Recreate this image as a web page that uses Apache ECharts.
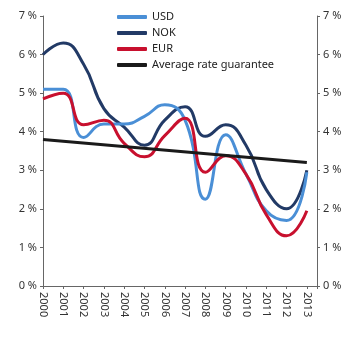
<!DOCTYPE html>
<html><head><meta charset="utf-8">
<script src="https://cdn.jsdelivr.net/npm/echarts@6/dist/echarts.min.js"></script>
<style>html,body{margin:0;padding:0;background:#fff}#c{width:360px;height:341px}</style>
</head><body><div id="c"></div>
<script>
const years = [2000,2001,2002,2003,2004,2005,2006,2007,2008,2009,2010,2011,2012,2013];
const usd = [5.10,5.10,3.85,4.20,4.20,4.40,4.70,4.30,2.25,3.92,2.90,1.95,1.70,2.95];
const nok = [6.00,6.30,5.75,4.60,4.12,3.65,4.30,4.65,3.88,4.18,3.65,2.50,2.00,3.00];
const eur = [4.85,5.00,4.18,4.30,3.70,3.35,3.90,4.35,2.95,3.38,2.90,1.85,1.30,1.95];
const avgYears = [2000,2013];
const avg = [3.80,3.20];

const pair = (xs, ys) => xs.map((x,i)=>[x, ys[i]]);
const font = 'Noto Sans';
const chart = echarts.init(document.getElementById('c'));
const yAxisBase = {
  type:'value', min:0, max:7, interval:1,
  axisLine:{show:true, lineStyle:{color:'#666', width:1}},
  axisTick:{show:true, length:3, lineStyle:{color:'#666'}},
  splitLine:{show:false},
  axisLabel:{formatter: v => v + ' %', color:'#333', fontFamily:font, fontSize:11, margin:6}
};
chart.setOption({
  animation:false,
  grid:{left:43, right:43, top:16, bottom:55},
  legend:{
    orient:'vertical', left:112, top:5, itemGap:2, itemWidth:30, itemHeight:4,
    icon:'roundRect',
    textStyle:{fontFamily:font, fontSize:11, color:'#222', lineHeight:14, padding:[0,0,0,0]},
    data:['USD','NOK','EUR','Average rate guarantee']
  },
  xAxis:{
    type:'value', min:2000, max:2013.5, interval:1,
    axisLine:{onZero:false, lineStyle:{color:'#666'}},
    axisTick:{length:3, lineStyle:{color:'#666'}},
    splitLine:{show:false},
    axisLabel:{rotate:-90, color:'#333', fontFamily:font, fontSize:11, margin:6,
      formatter: v => (v % 1 === 0 ? String(v) : '')}
  },
  yAxis:[Object.assign({position:'left'}, yAxisBase), Object.assign({position:'right'}, yAxisBase)],
  series:[
    {name:'USD', type:'line', smooth:0.5, showSymbol:false, data:pair(years, usd), lineStyle:{color:'#4a8fd6', width:3}, itemStyle:{color:'#4a8fd6'}, z:3},
    {name:'NOK', type:'line', smooth:0.5, showSymbol:false, data:pair(years, nok), lineStyle:{color:'#223a66', width:3}, itemStyle:{color:'#223a66'}, z:2},
    {name:'EUR', type:'line', smooth:0.5, showSymbol:false, data:pair(years, eur), lineStyle:{color:'#c8102e', width:3}, itemStyle:{color:'#c8102e'}, z:4},
    {name:'Average rate guarantee', type:'line', showSymbol:false, data:pair(avgYears, avg), lineStyle:{color:'#1a1a1a', width:3}, itemStyle:{color:'#1a1a1a'}, z:5}
  ]
});
</script></body></html>
